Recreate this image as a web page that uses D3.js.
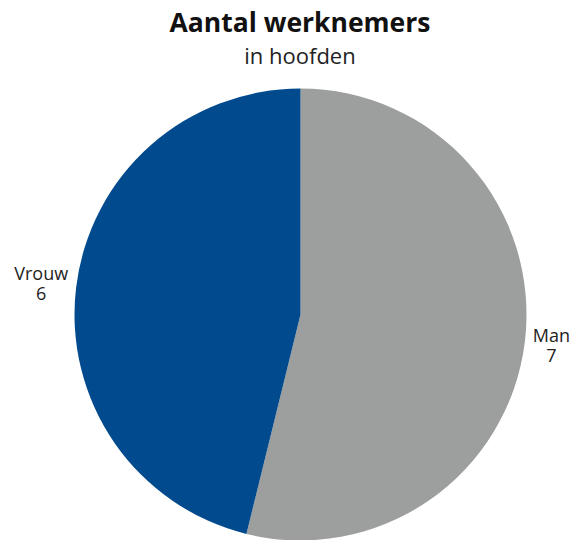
<!DOCTYPE html>
<html lang="nl">
<head>
<meta charset="UTF-8">
<title>Aantal werknemers</title>
<script src="https://d3js.org/d3.v7.min.js"></script>
<style>
  body { margin: 0; background: #fff; font-family: "Open Sans", sans-serif; }
</style>
</head>
<body>
<div id="chart"></div>
<script>
var categories = ["Man", "Vrouw"];
var values = [7, 6];
var colors = ["#9d9f9e", "#004a8d"];

var width = 574, height = 540;
var cx = 300.5, cy = 314.5, radius = 226;

var svg = d3.select("#chart").append("svg")
    .attr("width", width)
    .attr("height", height);

svg.append("text")
    .attr("x", 300).attr("y", 32)
    .attr("text-anchor", "middle")
    .style("font-size", "26.5px")
    .style("font-weight", "bold")
    .style("fill", "#111")
    .text("Aantal werknemers");

svg.append("text")
    .attr("x", 300).attr("y", 64)
    .attr("text-anchor", "middle")
    .style("font-size", "22px")
    .style("fill", "#222")
    .text("in hoofden");

var data = categories.map(function(c, i) { return { name: c, value: values[i], color: colors[i] }; });

var pie = d3.pie().sort(null).value(function(d) { return d.value; });
var arc = d3.arc().innerRadius(0).outerRadius(radius);

var g = svg.append("g").attr("transform", "translate(" + cx + "," + cy + ")");
var arcs = pie(data);

g.selectAll("path")
    .data(arcs)
    .enter().append("path")
    .attr("d", arc)
    .attr("fill", function(d) { return d.data.color; });

// labels just outside the pie at the slice's mid angle
var lbl = g.selectAll("text.lbl")
    .data(arcs)
    .enter().append("text")
    .attr("class", "lbl")
    .attr("text-anchor", "middle")
    .style("font-size", "18px")
    .style("fill", "#222");
lbl.append("tspan").attr("x", 0).attr("y", 0).text(function(d) { return d.data.name; });
lbl.append("tspan").attr("x", 0).attr("dy", 20).text(function(d) { return d.data.value; });

lbl.attr("transform", function(d) {
    var a = (d.startAngle + d.endAngle) / 2;
    var right = Math.sin(a) > 0;
    var w = this.getBBox().width;
    var x = Math.sin(a) * radius + (right ? 8 + w / 2 : -(8 + w / 2));
    var y = -Math.cos(a) * radius + (right ? 0.5 : -7.5);
    return "translate(" + x + "," + y + ")";
});
</script>
</body>
</html>
